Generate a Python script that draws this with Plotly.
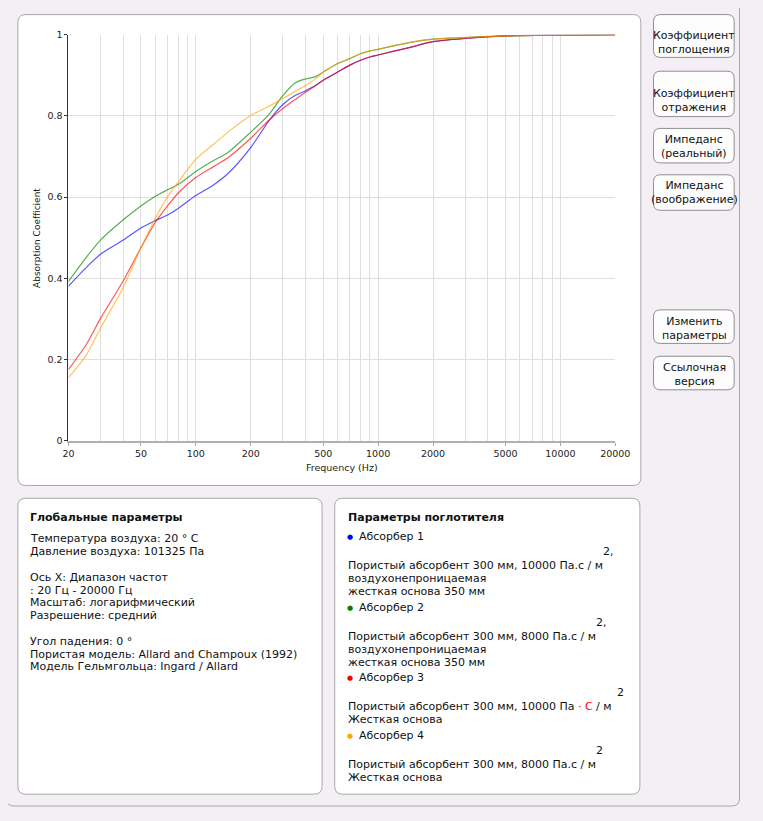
import plotly.graph_objects as go

# the page keeps the browser's 8px body margin, so the figure is 16px smaller
OFF = 8
W, H = 763 - 2 * OFF, 821 - 2 * OFF

# ---------------- data ----------------
freq_hz = [20, 25, 30, 40, 50, 60, 70, 80, 100, 125, 150, 200, 250, 300, 350, 400, 450, 500,
           600, 700, 800, 900, 1000, 1500, 2000, 3000, 5000, 10000, 20000]
absorber1 = [0.380, 0.426, 0.459, 0.494, 0.524, 0.542, 0.556, 0.572, 0.604, 0.630, 0.658, 0.722,
             0.786, 0.828, 0.850, 0.862, 0.874, 0.888, 0.908, 0.925, 0.937, 0.945, 0.950, 0.969,
             0.983, 0.991, 0.997, 0.999, 1.0]
absorber2 = [0.392, 0.451, 0.494, 0.544, 0.578, 0.602, 0.618, 0.631, 0.663, 0.690, 0.710, 0.760,
             0.802, 0.850, 0.881, 0.891, 0.896, 0.908, 0.929, 0.941, 0.953, 0.960, 0.964, 0.981,
             0.989, 0.993, 0.997, 0.999, 1.0]
absorber3 = [0.175, 0.236, 0.301, 0.394, 0.475, 0.538, 0.578, 0.610, 0.648, 0.675, 0.697, 0.745,
             0.788, 0.818, 0.840, 0.858, 0.873, 0.888, 0.908, 0.925, 0.937, 0.945, 0.950, 0.969,
             0.983, 0.991, 0.997, 0.999, 1.0]
absorber4 = [0.155, 0.210, 0.277, 0.378, 0.475, 0.548, 0.601, 0.637, 0.693, 0.730, 0.760, 0.801,
             0.823, 0.843, 0.860, 0.875, 0.890, 0.908, 0.929, 0.941, 0.953, 0.960, 0.964, 0.981,
             0.989, 0.993, 0.997, 0.999, 1.0]

series_names = ["Абсорбер 1", "Абсорбер 2", "Абсорбер 3", "Абсорбер 4"]
series_colors = ["#0000ff", "#008000", "#ff0000", "#ffa500"]

x_tick_vals = [20, 50, 100, 200, 500, 1000, 2000, 5000, 10000, 20000]
x_tick_text = ["20", "50", "100", "200", "500", "1000", "2000", "5000", "10000", "20000"]
x_minor_vals = [30, 40, 60, 70, 80, 90, 300, 400, 600, 700, 800, 900,
                3000, 4000, 6000, 7000, 8000, 9000]
y_tick_vals = [0, 0.2, 0.4, 0.6, 0.8, 1.0]
y_tick_text = ["0", "0.2", "0.4", "0.6", "0.8", "1"]

x_title = "Frequency (Hz)"
y_title = "Absorption Coefficient"

buttons = ["Коэффициент<br>поглощения", "Коэффициент<br>отражения", "Импеданс<br>(реальный)",
           "Импеданс<br>(воображение)", "Изменить<br>параметры", "Ссылочная<br>версия"]

global_title = "Глобальные параметры"
global_lines = ["Температура воздуха: 20 ° C", "Давление воздуха: 101325 Па", "",
                "Ось X: Диапазон частот", ": 20 Гц - 20000 Гц", "Масштаб: логарифмический",
                "Разрешение: средний", "",
                "Угол падения: 0 °", "Пористая модель: Allard and Champoux (1992)",
                "Модель Гельмгольца: Ingard / Allard"]

absorber_title = "Параметры поглотителя"
absorber_desc = [
    ["Пористый абсорбент 300 мм, 10000 Па.с / м", "воздухонепроницаемая", "жесткая основа 350 мм"],
    ["Пористый абсорбент 300 мм, 8000 Па.с / м", "воздухонепроницаемая", "жесткая основа 350 мм"],
    ['Пористый абсорбент 300 мм, 10000 Па <span style="color:#ff0000">·</span> '
     '<span style="color:#ff0000">С</span> / м', "Жесткая основа"],
    ["Пористый абсорбент 300 мм, 8000 Па.с / м", "Жесткая основа"],
]
absorber_sup = ["2,", "2,", "2", "2"]

# ---------------- helpers ----------------
FONT = "DejaVu Sans"


def px(x):
    return (x - OFF) / W


def py(y):
    return 1 - (y - OFF) / H


def rrect(x0, y0, x1, y1, r):
    pts = [
        f"M {px(x0 + r)} {py(y0)}",
        f"L {px(x1 - r)} {py(y0)}",
        f"Q {px(x1)} {py(y0)} {px(x1)} {py(y0 + r)}",
        f"L {px(x1)} {py(y1 - r)}",
        f"Q {px(x1)} {py(y1)} {px(x1 - r)} {py(y1)}",
        f"L {px(x0 + r)} {py(y1)}",
        f"Q {px(x0)} {py(y1)} {px(x0)} {py(y1 - r)}",
        f"L {px(x0)} {py(y0 + r)}",
        f"Q {px(x0)} {py(y0)} {px(x0 + r)} {py(y0)}",
        "Z",
    ]
    return " ".join(pts)


shapes = []
annotations = []


def panel(x0, y0, x1, y1, r, fill, line, width=1):
    shapes.append(dict(type="path", path=rrect(x0, y0, x1, y1, r), xref="paper", yref="paper",
                       fillcolor=fill, line=dict(color=line, width=width), layer="below"))


def text(x, y, s, size=11, color="#111111", anchor="left", angle=0):
    annotations.append(dict(x=px(x), y=py(y), xref="paper", yref="paper", text=s,
                            showarrow=False, xanchor=anchor, yanchor="middle",
                            textangle=angle, align="center" if anchor == "center" else "left",
                            font=dict(family=FONT, size=size, color=color), borderpad=0))


# page frame (right edge pulled in to stay inside the drawable area)
panel(0, -20, 754.5, 811, 8, "#f3eff5", "#a8a8a8")
# chart panel
panel(12, 8.6, 653, 486, 8, "#ffffff", "#a8a8a8")
# bottom panels
panel(12, 499, 325, 799, 8, "#ffffff", "#a8a8a8")
panel(338, 499, 652, 799, 8, "#ffffff", "#a8a8a8")

# buttons
btn_boxes = [(8.6, 52), (66, 112), (124, 159), (171, 207), (308, 342), (355, 389)]
btn_text_y = [37, 95.5, 142, 189, 327, 373]
for (t, b), ty, label in zip(btn_boxes, btn_text_y, buttons):
    panel(666, t, 749, b, 7, "#fdfdfd", "#8f8f8f")
    text(708, ty, label, size=11, color="#111111", anchor="center")

# global parameters panel
text(23, 518, f"<b>{global_title}</b>", size=11)
yy = 540
for ln in global_lines:
    if ln:
        text(23, yy, ln, size=11)
    yy += 13

# absorber panel
text(351, 518, f"<b>{absorber_title}</b>", size=11)
absorber_y = [538, 610, 681, 740]
sup_x = [613, 606, 627, 606]
for i, (name, col) in enumerate(zip(series_names, series_colors)):
    y0 = absorber_y[i]
    text(350, y0, f'<span style="color:{col}">●</span>', size=7)
    text(362, y0, name, size=11)
    text(sup_x[i], y0 + 15, absorber_sup[i], size=11)
    for j, ln in enumerate(absorber_desc[i]):
        text(351, y0 + 29 + 13.3 * j, ln, size=11)

# axis titles
text(345.4, 468, x_title, size=9.5, color="#222222", anchor="center")
text(31, 234.7, y_title, size=9, color="#222222", anchor="center", angle=-90)

# ---------------- figure ----------------
fig = go.Figure()
for name, col, vals in zip(series_names, series_colors,
                           [absorber1, absorber2, absorber3, absorber4]):
    fig.add_trace(go.Scatter(x=freq_hz, y=vals, mode="lines", name=name,
                             line=dict(color=col, width=1.2, shape="spline", smoothing=0.8),
                             opacity=0.65))

fig.update_layout(
    width=W, height=H, autosize=False,
    margin=dict(l=0, r=0, t=0, b=0, pad=0),
    paper_bgcolor="#f3eff5", plot_bgcolor="rgba(0,0,0,0)",
    showlegend=False,
    shapes=shapes, annotations=annotations,
    font=dict(family=FONT, color="#222222"),
    xaxis=dict(
        type="log", range=[1.30103, 4.30103],
        domain=[px(64), px(626.7)],
        tickmode="array", tickvals=x_tick_vals, ticktext=x_tick_text,
        tickfont=dict(family=FONT, size=9.5, color="#222222"),
        ticks="outside", ticklen=3, tickcolor="#aaaaaa",
        showgrid=True, gridcolor="#dedede", gridwidth=1,
        minor=dict(tickvals=x_minor_vals, showgrid=True, gridcolor="#dedede", gridwidth=1,
                   ticks=""),
        showline=True, linecolor="#b0b0b0", linewidth=2,
        zeroline=False, fixedrange=True,
    ),
    yaxis=dict(
        range=[0, 1], domain=[py(440.5), py(29)],
        tickmode="array", tickvals=y_tick_vals, ticktext=y_tick_text,
        tickfont=dict(family=FONT, size=9.5, color="#222222"),
        ticks="outside", ticklen=3, tickcolor="#333333",
        showgrid=True, gridcolor="#dedede", gridwidth=1,
        showline=True, linecolor="#333333", linewidth=1,
        zeroline=False, fixedrange=True,
    ),
)

fig.write_html(
    "out.html",
    config={"displayModeBar": False},
    post_script="document.body.style.background='#f3eff5';",
)
